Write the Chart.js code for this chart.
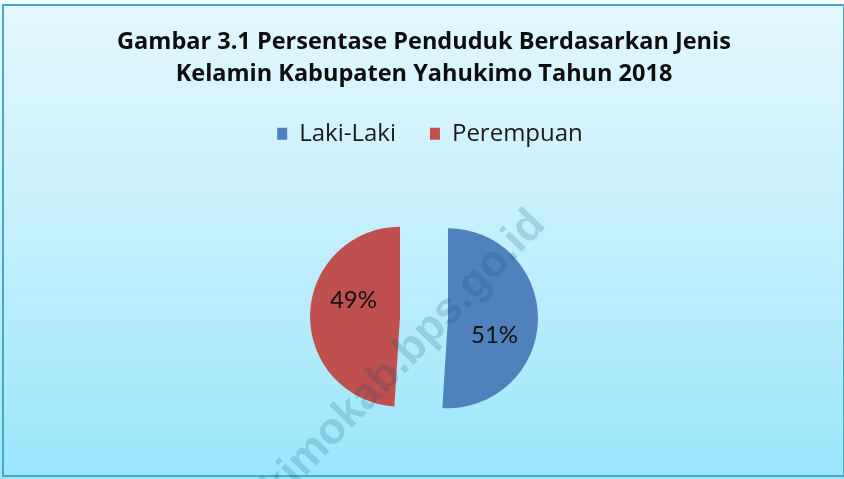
<!DOCTYPE html>
<html>
<head>
<meta charset="utf-8">
<script src="https://cdn.jsdelivr.net/npm/chart.js@4"></script>
<style>
  html, body { margin: 0; padding: 0; background: #ffffff; }
  #wrap { width: 844px; height: 479px; }
</style>
</head>
<body>
<div id="wrap"><canvas id="pieChart" width="844" height="479"></canvas></div>
<script>
// Data
const titleLines = ['Gambar 3.1 Persentase Penduduk Berdasarkan Jenis', 'Kelamin Kabupaten Yahukimo Tahun 2018'];
const categories = ['Laki-Laki', 'Perempuan'];
const percentValues = [51, 49];
const sliceColors = ['#4f81bd', '#c0504d'];
const watermarkText = 'yahukimokab.bps.go.id';

const EXPLODE = 24; // px each slice is pulled out from the centre

// Background gradient + frame
const backgroundPlugin = {
    id: 'background',
    beforeDraw(chart) {
        const ctx = chart.ctx;
        const w = chart.width, h = chart.height;
        ctx.save();
        const grad = ctx.createLinearGradient(0, 0, 0, h);
        grad.addColorStop(0, '#e4f8fe');
        grad.addColorStop(0.5, '#c3effd');
        grad.addColorStop(1, '#9be6fc');
        ctx.fillStyle = grad;
        ctx.fillRect(0, 0, w, h);
        ctx.fillStyle = '#f2fbfe';
        ctx.fillRect(0, 0, w, 4);
        ctx.strokeStyle = '#4aa8c1';
        ctx.lineWidth = 2;
        ctx.strokeRect(3, 5, w - 3, h - 8);
        ctx.restore();
    }
};

// Pull each slice out along its middle angle (keeps the slice angles exact)
const explodePlugin = {
    id: 'explode',
    afterLayout(chart) {
        // legend sits a little right of the title in the original
        if (chart.legend) {
            chart.legend.left += 6;
            chart.legend.right += 6;
        }
    },
    beforeDatasetsDraw(chart) {
        chart.getDatasetMeta(0).data.forEach(arc => {
            if (arc._exploded) return;
            const mid = (arc.startAngle + arc.endAngle) / 2;
            arc.x += Math.cos(mid) * EXPLODE;
            arc.y += Math.sin(mid) * EXPLODE;
            arc._exploded = true;
        });
    }
};

// Percent labels inside the slices
const sliceLabelPlugin = {
    id: 'sliceLabels',
    afterDatasetsDraw(chart) {
        const ctx = chart.ctx;
        const meta = chart.getDatasetMeta(0);
        const data = chart.data.datasets[0].data;
        ctx.save();
        ctx.font = '24px Lato, Carlito, sans-serif';
        ctx.fillStyle = '#111111';
        ctx.textAlign = 'center';
        ctx.textBaseline = 'middle';
        meta.data.forEach((arc, i) => {
            const mid = (arc.startAngle + arc.endAngle) / 2 + 18 * Math.PI / 180;
            const r = arc.outerRadius * 0.55;
            ctx.fillText(data[i] + '%', arc.x + Math.cos(mid) * r, arc.y + Math.sin(mid) * r);
        });
        ctx.restore();
    }
};

// Faint diagonal watermark
const watermarkPlugin = {
    id: 'watermark',
    afterDraw(chart) {
        const ctx = chart.ctx;
        ctx.save();
        ctx.translate(547, 226);
        ctx.rotate(-46 * Math.PI / 180);
        ctx.font = 'bold 44px "Liberation Sans", Arial, sans-serif';
        ctx.textAlign = 'right';
        ctx.textBaseline = 'alphabetic';
        ctx.fillStyle = 'rgba(0, 80, 110, 0.18)';
        ctx.fillText(watermarkText, 0, 0);
        ctx.restore();
    }
};

const ctx = document.getElementById('pieChart');
new Chart(ctx, {
    type: 'pie',
    data: {
        labels: categories,
        datasets: [{
            data: percentValues,
            backgroundColor: sliceColors,
            borderWidth: 0,
            hoverOffset: 0,
            radius: 90
        }]
    },
    options: {
        responsive: false,
        animation: false,
        events: [],
        layout: { padding: { left: 4, right: 0, top: 0, bottom: 0 } },
        plugins: {
            title: {
                display: true,
                text: titleLines,
                color: '#0d0d0d',
                font: { family: '"Open Sans", sans-serif', size: 23.5, weight: 'bold', lineHeight: 1.38 },
                padding: { top: 26, bottom: -3 }
            },
            legend: {
                display: true,
                position: 'top',
                labels: {
                    color: '#1a1a1a',
                    font: { family: '"Open Sans", sans-serif', size: 24 },
                    boxWidth: 10,
                    boxHeight: 12,
                    padding: 34
                }
            },
            tooltip: { enabled: false }
        }
    },
    plugins: [backgroundPlugin, explodePlugin, sliceLabelPlugin, watermarkPlugin]
});
</script>
</body>
</html>
